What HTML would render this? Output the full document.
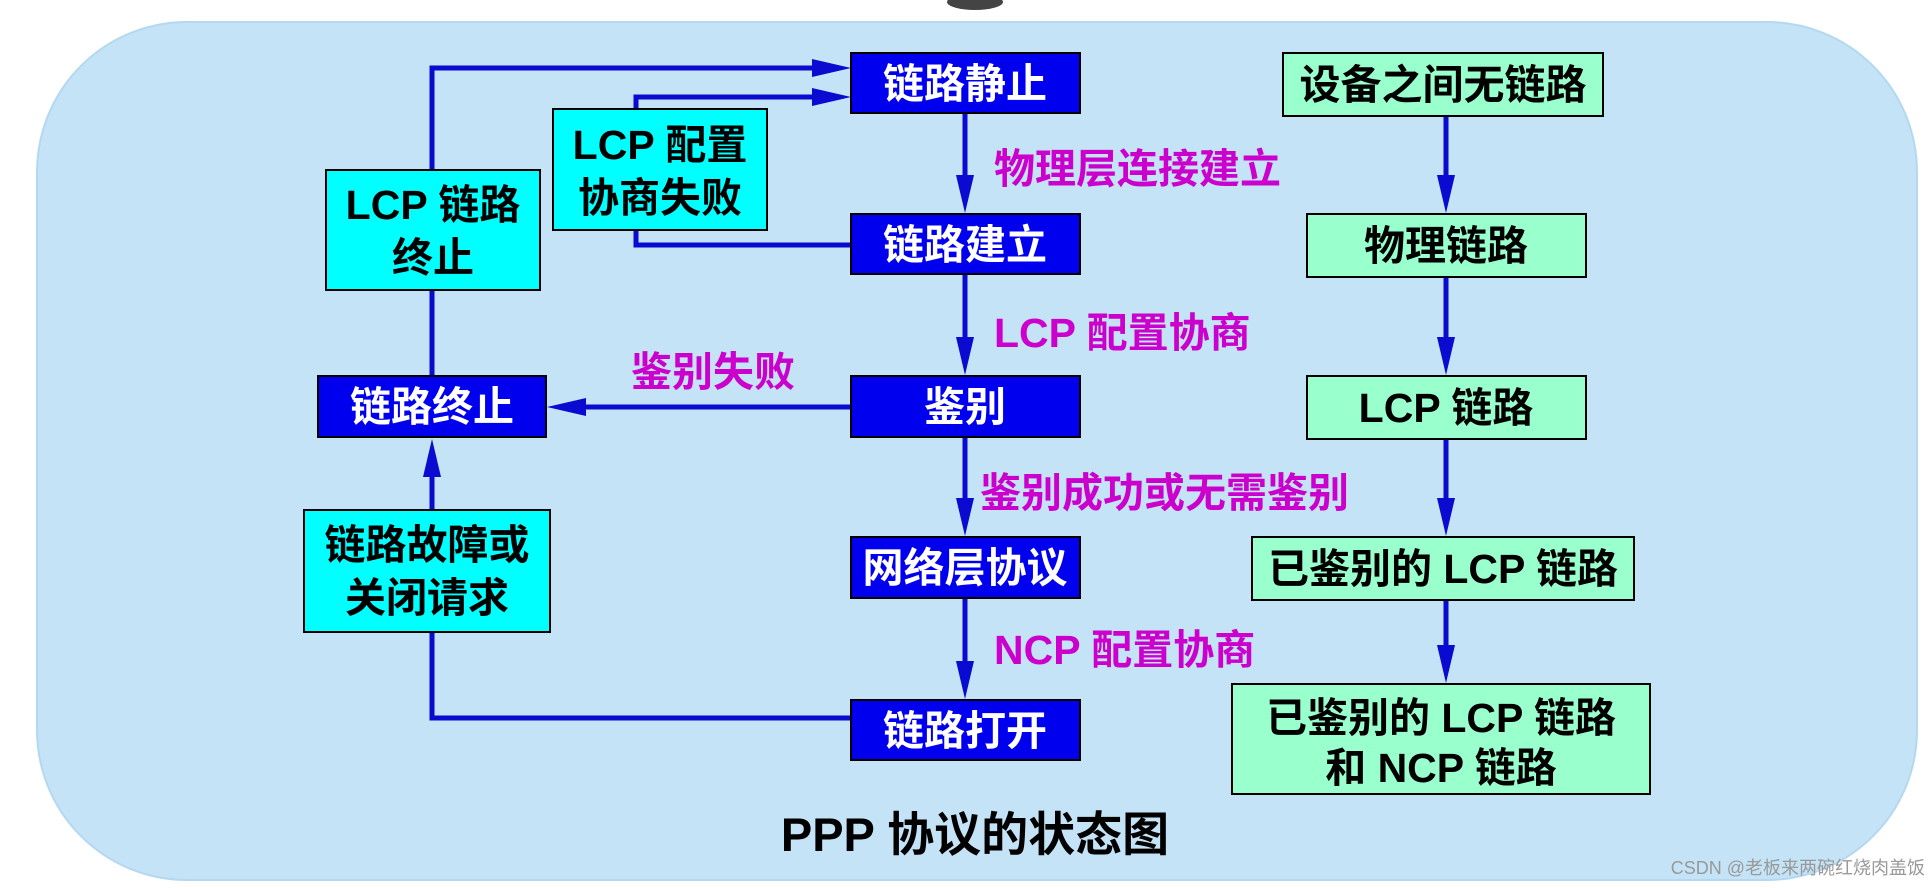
<!DOCTYPE html>
<html><head><meta charset="utf-8"><style>
html,body{margin:0;padding:0;background:#fff;}
svg{display:block;}
text{font-family:"Liberation Sans","Noto Sans CJK SC",sans-serif;font-weight:bold;}
</style></head><body>
<svg width="1928" height="888" viewBox="0 0 1928 888" xmlns="http://www.w3.org/2000/svg">
<ellipse cx="975" cy="2" rx="28" ry="8" fill="#444"/>
<rect x="37" y="22" width="1880" height="858" rx="150" ry="150" fill="#c4e3f6" stroke="#b4d8f0" stroke-width="2"/>
<g stroke="#0a0ad0" stroke-width="5" fill="none">
<line x1="965" y1="113" x2="965" y2="190"/>
<line x1="965" y1="274" x2="965" y2="352"/>
<line x1="965" y1="437" x2="965" y2="513"/>
<line x1="965" y1="598" x2="965" y2="676"/>
<polyline points="432,170 432,68 825,68"/>
<polyline points="851,245 636,245 636,97 825,97"/>
<line x1="432" y1="290" x2="432" y2="376"/>
<polyline points="851,718 432,718 432,632"/>
<line x1="432" y1="510" x2="432" y2="460"/>
<line x1="851" y1="407" x2="575" y2="407"/>
<line x1="1446" y1="116" x2="1446" y2="190"/>
<line x1="1446" y1="277" x2="1446" y2="352"/>
<line x1="1446" y1="439" x2="1446" y2="513"/>
<line x1="1446" y1="600" x2="1446" y2="660"/>
</g>
<g fill="#0a0ad0">
<path d="M956,175 L974,175 L965,213 z"/>
<path d="M956,337 L974,337 L965,375 z"/>
<path d="M956,498 L974,498 L965,536 z"/>
<path d="M956,661 L974,661 L965,699 z"/>
<path d="M812,59 L812,77 L851,68 z"/>
<path d="M812,88 L812,106 L851,97 z"/>
<path d="M586,398 L586,416 L547,407 z"/>
<path d="M423,477 L441,477 L432,439 z"/>
<path d="M1437,175 L1455,175 L1446,213 z"/>
<path d="M1437,337 L1455,337 L1446,375 z"/>
<path d="M1437,498 L1455,498 L1446,536 z"/>
<path d="M1437,645 L1455,645 L1446,683 z"/>
</g>
<g fill="#0000ee" stroke="#000" stroke-width="2">
<rect x="851" y="53" width="229" height="60"/>
<rect x="851" y="214" width="229" height="60"/>
<rect x="851" y="376" width="229" height="61"/>
<rect x="851" y="537" width="229" height="61"/>
<rect x="851" y="700" width="229" height="60"/>
<rect x="318" y="376" width="228" height="61"/>
</g>
<g fill="#fff" font-size="41" text-anchor="middle">
<text x="965" y="98">链路静止</text>
<text x="965" y="259">链路建立</text>
<text x="965" y="421">鉴别</text>
<text x="965" y="582">网络层协议</text>
<text x="965" y="745">链路打开</text>
<text x="432" y="421">链路终止</text>
</g>
<g fill="#00ffff" stroke="#000" stroke-width="2">
<rect x="326" y="170" width="214" height="120"/>
<rect x="553" y="109" width="214" height="121"/>
<rect x="304" y="510" width="246" height="122"/>
</g>
<g fill="#000" font-size="41" text-anchor="middle">
<text x="433" y="219">LCP 链路</text>
<text x="433" y="272">终止</text>
<text x="660" y="159">LCP 配置</text>
<text x="660" y="212">协商失败</text>
<text x="427" y="559">链路故障或</text>
<text x="427" y="612">关闭请求</text>
</g>
<g fill="#99ffcc" stroke="#000" stroke-width="2">
<rect x="1283" y="53" width="320" height="63"/>
<rect x="1307" y="214" width="279" height="63"/>
<rect x="1307" y="376" width="279" height="63"/>
<rect x="1252" y="537" width="382" height="63"/>
<rect x="1232" y="684" width="418" height="110"/>
</g>
<g fill="#000" font-size="41" text-anchor="middle">
<text x="1443" y="99">设备之间无链路</text>
<text x="1446" y="260">物理链路</text>
<text x="1446" y="422">LCP 链路</text>
<text x="1443" y="583">已鉴别的 LCP 链路</text>
<text x="1441" y="732">已鉴别的 LCP 链路</text>
<text x="1441" y="782">和 NCP 链路</text>
</g>
<g fill="#cc00cc" font-size="41">
<text x="994" y="183">物理层连接建立</text>
<text x="994" y="347">LCP 配置协商</text>
<text x="631" y="386">鉴别失败</text>
<text x="980" y="507">鉴别成功或无需鉴别</text>
<text x="994" y="664">NCP 配置协商</text>
</g>
<text x="975" y="851" font-size="47" fill="#000" text-anchor="middle">PPP 协议的状态图</text>
<text x="1925" y="874" font-size="18" fill="#999" text-anchor="end" style="font-weight:normal">CSDN @老板来两碗红烧肉盖饭</text>
</svg>
</body></html>
